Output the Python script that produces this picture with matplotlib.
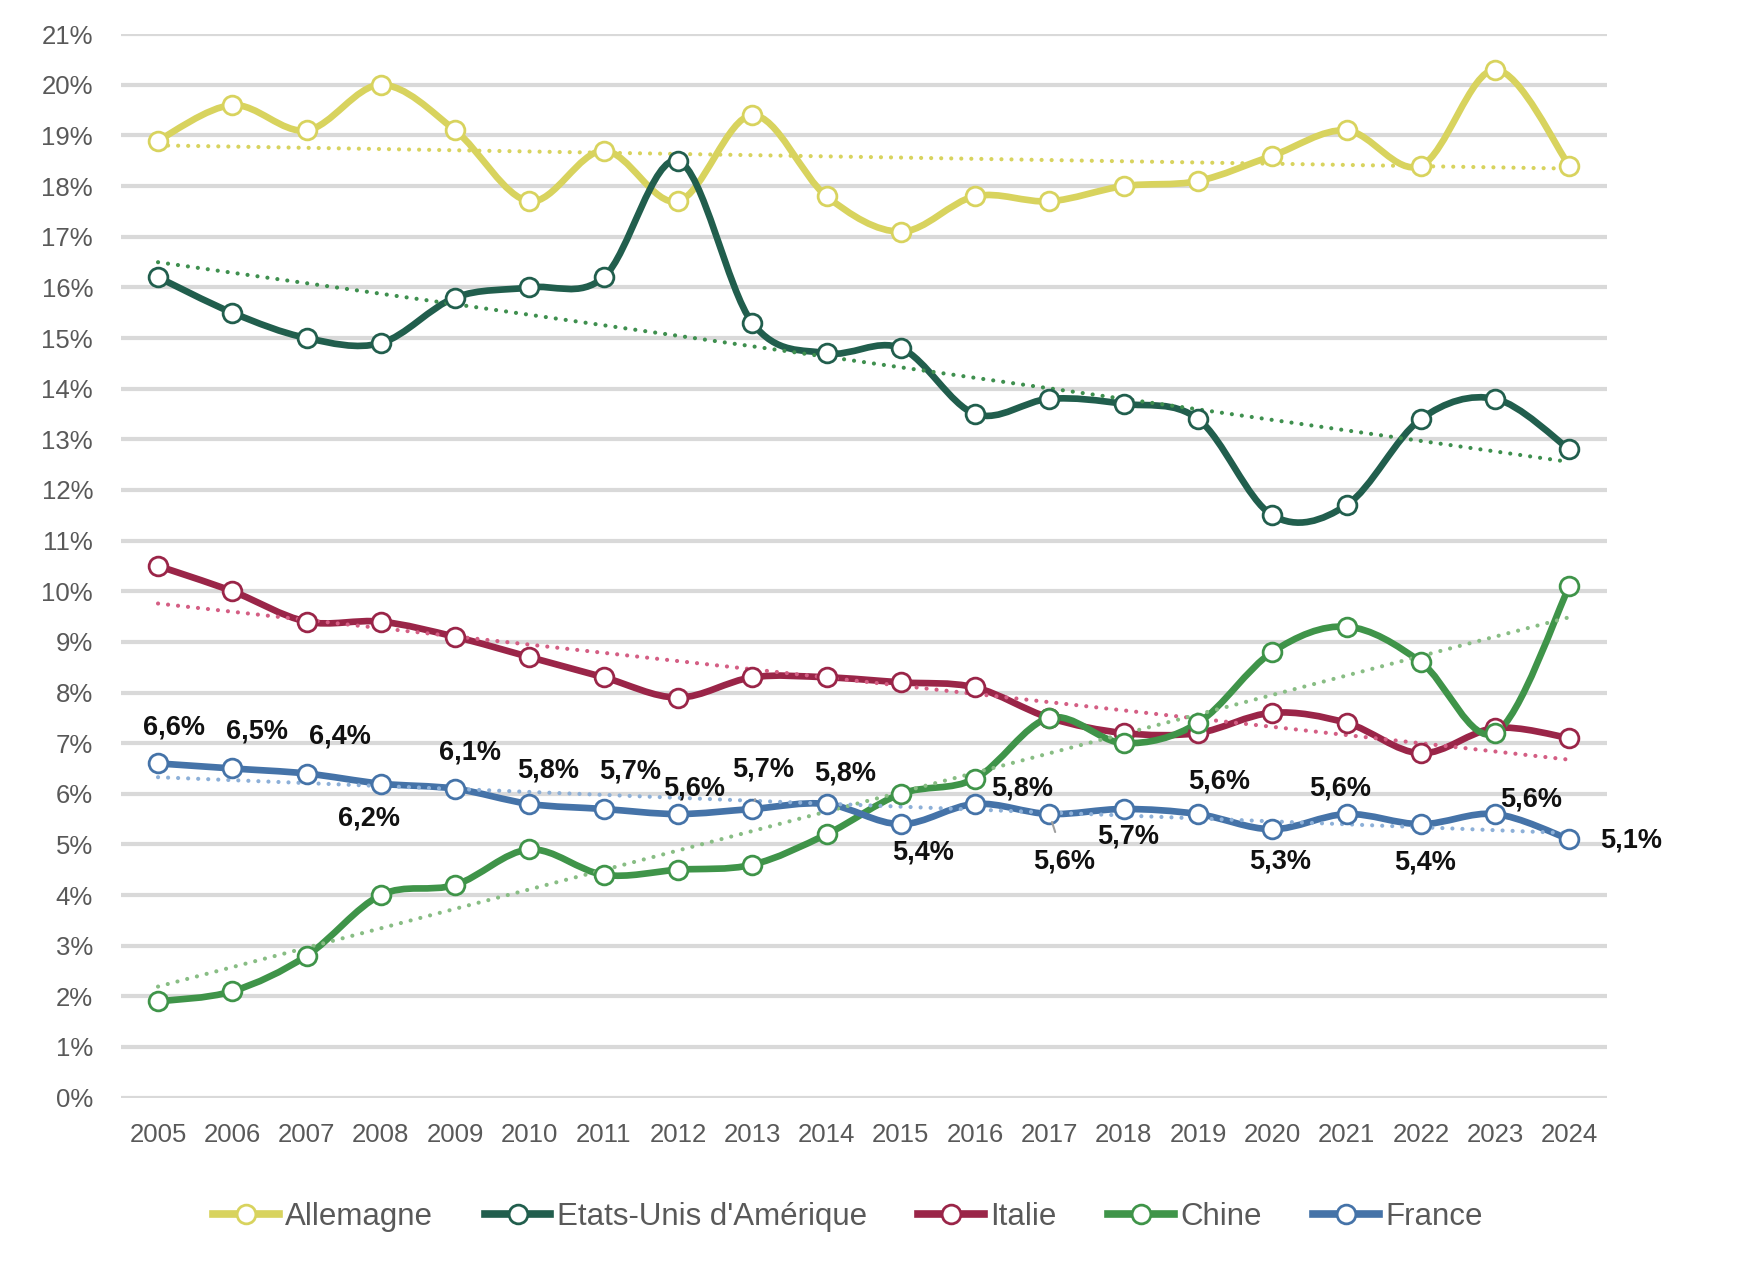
import numpy as np
import matplotlib.pyplot as plt
from matplotlib.path import Path
from matplotlib.patches import PathPatch
from matplotlib.lines import Line2D

plt.rcParams['font.family'] = ['Liberation Sans', 'DejaVu Sans']

years = [str(y) for y in range(2005, 2025)]

allemagne = [18.9, 19.6, 19.1, 20.0, 19.1, 17.7, 18.7, 17.7, 19.4, 17.8,
             17.1, 17.8, 17.7, 18.0, 18.1, 18.6, 19.1, 18.4, 20.3, 18.4]
etats_unis = [16.2, 15.5, 15.0, 14.9, 15.8, 16.0, 16.2, 18.5, 15.3, 14.7,
              14.8, 13.5, 13.8, 13.7, 13.4, 11.5, 11.7, 13.4, 13.8, 12.8]
italie = [10.5, 10.0, 9.4, 9.4, 9.1, 8.7, 8.3, 7.9, 8.3, 8.3,
          8.2, 8.1, 7.5, 7.2, 7.2, 7.6, 7.4, 6.8, 7.3, 7.1]
chine = [1.9, 2.1, 2.8, 4.0, 4.2, 4.9, 4.4, 4.5, 4.6, 5.2,
         6.0, 6.3, 7.5, 7.0, 7.4, 8.8, 9.3, 8.6, 7.2, 10.1]
france = [6.6, 6.5, 6.4, 6.2, 6.1, 5.8, 5.7, 5.6, 5.7, 5.8,
          5.4, 5.8, 5.6, 5.7, 5.6, 5.3, 5.6, 5.4, 5.6, 5.1]

series = [
    ("Allemagne", allemagne, "#D8D35E", "#D8D35E"),
    ("Etats-Unis d'Amérique", etats_unis, "#215E4D", "#3E8F4E"),
    ("Italie", italie, "#9A2548", "#D45E84"),
    ("Chine", chine, "#3F9449", "#88BD84"),
    ("France", france, "#4573A8", "#8DB0D8"),
]

# label offsets (pixels) for the France data labels
label_offsets = [(16, 36), (25, 37), (33, 37), (-12, -35), (15, 36), (19, 33),
                 (26, 37), (16, 26), (11, 39), (19, 30), (22, -28), (47, 15),
                 (15, -47), (4, -28), (21, 33), (8, -32), (-6, 26), (4, -38),
                 (36, 15), (62, -1)]


def smooth_path(x, y):
    pts = np.column_stack([x, y])
    n = len(pts)
    verts = [pts[0]]
    codes = [Path.MOVETO]
    for i in range(n - 1):
        p0 = pts[i - 1] if i > 0 else pts[i]
        p1 = pts[i]
        p2 = pts[i + 1]
        p3 = pts[i + 2] if i + 2 < n else pts[i + 1]
        verts += [p1 + (p2 - p0) / 6, p2 - (p3 - p1) / 6, p2]
        codes += [Path.CURVE4] * 3
    return Path(verts, codes)


fig = plt.figure(figsize=(17.52, 12.66), dpi=100)
ax = fig.add_axes([0.069, 0.133, 0.848, 0.840])

x = np.arange(len(years))
handles = []
for name, vals, color, tcolor in series:
    vals = np.array(vals)
    ax.add_patch(PathPatch(smooth_path(x, vals), facecolor='none', edgecolor=color,
                           lw=4.8, capstyle='round', joinstyle='round', zorder=3))
    ax.plot(x, vals, 'o', ms=13.5, mfc='white', mec=color, mew=2, zorder=5)
    coef = np.polyfit(x, vals, 1)
    ax.plot(x, np.polyval(coef, x), color=tcolor, lw=3,
            linestyle=(0, (0.01, 2.4)), dash_capstyle='round', zorder=4)
    handles.append(Line2D([0], [0], color=color, lw=5.5, marker='o', ms=13.5,
                          mfc='white', mec=color, mew=2))

for i, v in enumerate(france):
    dx, dy = label_offsets[i]
    txt = f"{v:.1f}%".replace('.', ',')
    props = None
    if i in (8, 12):
        props = dict(arrowstyle='-', color='#A0A0A0', lw=1.5, shrinkA=10, shrinkB=6)
    ax.annotate(txt, (x[i], v), xytext=(dx, dy), textcoords='offset pixels',
                ha='center', va='center', fontsize=19.5, fontweight='bold',
                color='#111111', zorder=6, arrowprops=props)

ax.set_xlim(-0.5, len(years) - 0.5)
ax.set_ylim(0, 21)
ax.set_yticks(range(0, 22))
ax.set_yticklabels([f"{t}%" for t in range(0, 22)])
ax.set_xticks(x)
ax.set_xticklabels(years)
ax.tick_params(axis='both', length=0, labelsize=18.5, labelcolor='#595959')
ax.tick_params(axis='y', pad=20)
ax.tick_params(axis='x', pad=18)
ax.grid(axis='y', color='#D9D9D9', lw=3)
ax.set_axisbelow(True)
for s in ax.spines.values():
    s.set_visible(False)

fig.legend(handles, [s[0] for s in series], loc='center', bbox_to_anchor=(0.484, 0.039),
           ncol=5, frameon=False, fontsize=22.5, labelcolor='#595959',
           handlelength=2.1, handletextpad=0.2, columnspacing=1.65)

fig.savefig("out.png", dpi=100, facecolor='white')
